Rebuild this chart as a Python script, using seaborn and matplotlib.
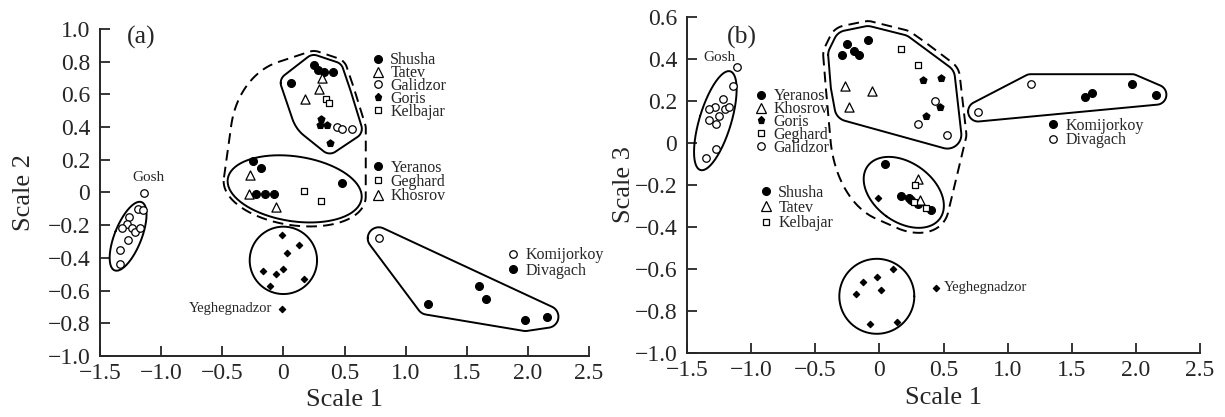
"""Two-panel ordination of regional samples (Scale 1 vs Scale 2 / Scale 3)."""

from __future__ import annotations

import matplotlib

matplotlib.use("Agg")
import matplotlib.pyplot as plt
import numpy as np
import pandas as pd
import seaborn as sns
from matplotlib.lines import Line2D
from matplotlib.ticker import FuncFormatter, MultipleLocator

# ---------------------------------------------------------------- panel (a)
A_GOSH_X = [-1.14, -1.19, -1.15, -1.26, -1.28, -1.32, -1.24, -1.21, -1.17, -1.27, -1.34, -1.34]
A_GOSH_Y = [0.00, -0.10, -0.11, -0.15, -0.19, -0.22, -0.22, -0.24, -0.22, -0.29, -0.35, -0.44]
A_SHUSHA_X = [0.25, 0.28, 0.33, 0.41, 0.06]
A_SHUSHA_Y = [0.78, 0.75, 0.74, 0.74, 0.67]
A_TATEV_X = [0.32, 0.29, 0.18]
A_TATEV_Y = [0.70, 0.63, 0.57]
A_GALIDZOR_X = [0.44, 0.48, 0.56]
A_GALIDZOR_Y = [0.40, 0.39, 0.39]
A_GORIS_X = [0.31, 0.30, 0.36, 0.38]
A_GORIS_Y = [0.45, 0.41, 0.41, 0.30]
A_KELBAJAR_X = [0.35, 0.37]
A_KELBAJAR_Y = [0.57, 0.55]
A_YERANOS_X = [-0.25, -0.18, -0.22, -0.15, -0.08, 0.48]
A_YERANOS_Y = [0.19, 0.15, -0.01, -0.01, -0.01, 0.06]
A_GEGHARD_X = [0.17, 0.31]
A_GEGHARD_Y = [0.01, -0.05]
A_KHOSROV_X = [-0.27, -0.28, -0.06]
A_KHOSROV_Y = [0.11, -0.01, -0.09]
A_YEGH_X = [-0.01, 0.13, 0.03, -0.17, -0.06, 0.00, -0.11, 0.17, -0.01]
A_YEGH_Y = [-0.26, -0.32, -0.37, -0.48, -0.50, -0.47, -0.57, -0.53, -0.71]
A_KOMIJORKOY_X = [0.78]
A_KOMIJORKOY_Y = [-0.28]
A_DIVAGACH_X = [1.18, 1.60, 1.66, 1.98, 2.16]
A_DIVAGACH_Y = [-0.68, -0.57, -0.65, -0.78, -0.76]

# ---------------------------------------------------------------- panel (b)
B_GOSH_X = [-1.11, -1.14, -1.22, -1.28, -1.33, -1.20, -1.17, -1.25, -1.33, -1.27, -1.27, -1.35]
B_GOSH_Y = [0.36, 0.27, 0.21, 0.17, 0.16, 0.16, 0.17, 0.13, 0.11, 0.09, -0.03, -0.07]
B_YERANOS_X = [-0.25, -0.29, -0.20, -0.16, -0.09]
B_YERANOS_Y = [0.47, 0.42, 0.44, 0.42, 0.49]
B_KHOSROV_X = [-0.27, -0.06, -0.24]
B_KHOSROV_Y = [0.27, 0.25, 0.17]
B_GORIS_X = [0.34, 0.48, 0.47, 0.36]
B_GORIS_Y = [0.30, 0.31, 0.17, 0.13]
B_GEGHARD_X = [0.17, 0.30]
B_GEGHARD_Y = [0.45, 0.37]
B_GALIDZOR_X = [0.43, 0.30, 0.53]
B_GALIDZOR_Y = [0.20, 0.09, 0.04]
B_SHUSHA_X = [0.04, 0.17, 0.23, 0.25, 0.30, 0.40]
B_SHUSHA_Y = [-0.10, -0.25, -0.26, -0.27, -0.29, -0.32]
B_TATEV_X = [0.30, 0.32]
B_TATEV_Y = [-0.17, -0.27]
B_KELBAJAR_X = [0.28, 0.27, 0.36]
B_KELBAJAR_Y = [-0.20, -0.28, -0.31]
B_YEGH_X = [-0.01, 0.11, -0.13, -0.02, -0.18, 0.01, -0.07, 0.14, 0.44]
B_YEGH_Y = [-0.26, -0.60, -0.66, -0.64, -0.72, -0.70, -0.86, -0.85, -0.69]
B_KOMIJORKOY_X = [1.60, 1.66, 1.97, 2.16]
B_KOMIJORKOY_Y = [0.22, 0.24, 0.28, 0.23]
B_DIVAGACH_X = [0.77, 1.18]
B_DIVAGACH_Y = [0.15, 0.28]

W, H = 1225, 417

# marker looks (size in pt, face colour)
STYLES = {
    "dot": dict(marker="o", ms=5.6, face="black"),
    "ring": dict(marker="o", ms=5.4, face="white"),
    "tri": dict(marker="^", ms=6.6, face="white"),
    "pent": dict(marker="p", ms=5.2, face="black"),
    "sq": dict(marker="s", ms=5.0, face="white"),
    "dia": dict(marker="D", ms=3.2, face="black"),
}

A_SITES = {
    "Gosh": (A_GOSH_X, A_GOSH_Y, "ring"),
    "Shusha": (A_SHUSHA_X, A_SHUSHA_Y, "dot"),
    "Tatev": (A_TATEV_X, A_TATEV_Y, "tri"),
    "Galidzor": (A_GALIDZOR_X, A_GALIDZOR_Y, "ring"),
    "Goris": (A_GORIS_X, A_GORIS_Y, "pent"),
    "Kelbajar": (A_KELBAJAR_X, A_KELBAJAR_Y, "sq"),
    "Yeranos": (A_YERANOS_X, A_YERANOS_Y, "dot"),
    "Geghard": (A_GEGHARD_X, A_GEGHARD_Y, "sq"),
    "Khosrov": (A_KHOSROV_X, A_KHOSROV_Y, "tri"),
    "Yeghegnadzor": (A_YEGH_X, A_YEGH_Y, "dia"),
    "Komijorkoy": (A_KOMIJORKOY_X, A_KOMIJORKOY_Y, "ring"),
    "Divagach": (A_DIVAGACH_X, A_DIVAGACH_Y, "dot"),
}

B_SITES = {
    "Gosh": (B_GOSH_X, B_GOSH_Y, "ring"),
    "Yeranos": (B_YERANOS_X, B_YERANOS_Y, "dot"),
    "Khosrov": (B_KHOSROV_X, B_KHOSROV_Y, "tri"),
    "Goris": (B_GORIS_X, B_GORIS_Y, "pent"),
    "Geghard": (B_GEGHARD_X, B_GEGHARD_Y, "sq"),
    "Galidzor": (B_GALIDZOR_X, B_GALIDZOR_Y, "ring"),
    "Shusha": (B_SHUSHA_X, B_SHUSHA_Y, "dot"),
    "Tatev": (B_TATEV_X, B_TATEV_Y, "tri"),
    "Kelbajar": (B_KELBAJAR_X, B_KELBAJAR_Y, "sq"),
    "Yeghegnadzor": (B_YEGH_X, B_YEGH_Y, "dia"),
    "Komijorkoy": (B_KOMIJORKOY_X, B_KOMIJORKOY_Y, "dot"),
    "Divagach": (B_DIVAGACH_X, B_DIVAGACH_Y, "ring"),
}


def to_frame(sites: dict) -> pd.DataFrame:
    rows = []
    for site, (xs, ys, style) in sites.items():
        for i, (x, y) in enumerate(zip(xs, ys)):
            rows.append({"site": site, "idx": i, "x": x, "y": y, "style": style})
    return pd.DataFrame(rows)


def fig_pos(x: float, y: float) -> tuple[float, float]:
    return x / W, 1 - y / H


def tick_fmt(v, _):
    if abs(v) < 1e-9:
        return "0"
    return f"{v:.1f}".replace("-", "\u2212")


def convex_hull(points: np.ndarray) -> np.ndarray:
    pts = sorted(set(map(tuple, np.round(points, 3))))

    def cross(o, a, b):
        return (a[0] - o[0]) * (b[1] - o[1]) - (a[1] - o[1]) * (b[0] - o[0])

    lower, upper = [], []
    for p in pts:
        while len(lower) >= 2 and cross(lower[-2], lower[-1], p) <= 0:
            lower.pop()
        lower.append(p)
    for p in reversed(pts):
        while len(upper) >= 2 and cross(upper[-2], upper[-1], p) <= 0:
            upper.pop()
        upper.append(p)
    return np.array(lower[:-1] + upper[:-1])


def rounded_hull(disp: np.ndarray, pad: float) -> np.ndarray:
    ang = np.linspace(0, 2 * np.pi, 48, endpoint=False)
    ring = np.column_stack([np.cos(ang), np.sin(ang)]) * pad
    cloud = (disp[:, None, :] + ring[None, :, :]).reshape(-1, 2)
    hull = convex_hull(cloud)
    return np.vstack([hull, hull[:1]])


def bulge(disp: np.ndarray, k: float) -> np.ndarray:
    """Axis-aligned ellipse inside the bounding box, used to round off hulls."""
    lo, hi = disp.min(axis=0), disp.max(axis=0)
    mid, half = (lo + hi) / 2, (hi - lo) / 2 * k
    t = np.linspace(0, 2 * np.pi, 120)
    return mid + np.column_stack([half[0] * np.cos(t), half[1] * np.sin(t)])


def ellipse_ring(disp: np.ndarray, pad: float, circle: bool = False) -> np.ndarray:
    t = np.linspace(0, 2 * np.pi, 160)
    if circle:
        mid = (disp.max(axis=0) + disp.min(axis=0)) / 2
        r = np.hypot(*(disp - mid).T).max() + pad
        return mid + r * np.column_stack([np.cos(t), np.sin(t)])
    centre = disp.mean(axis=0)
    _, vecs = np.linalg.eigh(np.cov((disp - centre).T))
    local = (disp - centre) @ vecs
    mid = (local.max(axis=0) + local.min(axis=0)) / 2
    half = np.maximum((local.max(axis=0) - local.min(axis=0)) / 2, 1.0)
    scale = np.sqrt((((local - mid) / half) ** 2).sum(axis=1)).max()
    half = half * scale + pad
    ring = np.column_stack([half[0] * np.cos(t), half[1] * np.sin(t)]) + mid
    return centre + ring @ vecs.T


def members(df: pd.DataFrame, picks) -> np.ndarray:
    parts = []
    for site, sl in picks:
        sub = df[df["site"] == site].sort_values("idx").iloc[sl]
        parts.append(sub[["x", "y"]].to_numpy())
    return np.vstack(parts)


def draw_outline(ax, disp_ring: np.ndarray, dashed: bool = False) -> None:
    data = ax.transData.inverted().transform(disp_ring)
    ls = (0, (5.5, 3.2)) if dashed else "-"
    ax.plot(data[:, 0], data[:, 1], color="black", lw=1.4, ls=ls, zorder=2,
            solid_capstyle="round")


def outline(ax, df, picks, kind: str, pad: float, k: float = 0.7) -> np.ndarray:
    disp = ax.transData.transform(members(df, picks))
    if kind == "hull":
        ring = rounded_hull(disp, pad)
    elif kind == "blob":
        ring = rounded_hull(np.vstack([disp, bulge(disp, k)]), pad)
    elif kind == "circle":
        ring = ellipse_ring(disp, pad, circle=True)
    else:
        ring = ellipse_ring(disp, pad)
    draw_outline(ax, ring)
    return ring


def dashed_outline(ax, rings, pad: float, k: float) -> None:
    both = np.vstack(rings)
    draw_outline(ax, rounded_hull(np.vstack([both, bulge(both, k)]), pad), dashed=True)


def scatter_sites(ax, df: pd.DataFrame) -> None:
    for (site, style), sub in df.groupby(["site", "style"], sort=False):
        st = STYLES[style]
        sns.scatterplot(data=sub, x="x", y="y", marker=st["marker"], s=st["ms"] ** 2,
                        color=st["face"], edgecolor="black", linewidth=0.9,
                        legend=False, zorder=4, ax=ax)


def add_legend(fig, labels, styles, x_px, y_px, spacing):
    handles = []
    for style in styles:
        st = STYLES[style]
        handles.append(Line2D([], [], ls="none", marker=st["marker"], markersize=st["ms"],
                              markerfacecolor=st["face"], markeredgecolor="black",
                              markeredgewidth=0.9))
    fig.legend(handles, labels, loc="center left", bbox_to_anchor=fig_pos(x_px, y_px),
               bbox_transform=fig.transFigure, frameon=False, fontsize=11.5,
               handlelength=0.8, handletextpad=0.35, borderpad=0, borderaxespad=0,
               labelspacing=spacing)


def style_axes(ax, ylim, xlabel, ylabel, ylabelpad):
    ax.set_xlim(-1.5, 2.5)
    ax.set_ylim(*ylim)
    ax.xaxis.set_major_locator(MultipleLocator(0.5))
    ax.yaxis.set_major_locator(MultipleLocator(0.2))
    ax.xaxis.set_major_formatter(FuncFormatter(tick_fmt))
    ax.yaxis.set_major_formatter(FuncFormatter(tick_fmt))
    for side in ("top", "right"):
        ax.spines[side].set_visible(False)
    for side in ("left", "bottom"):
        ax.spines[side].set_linewidth(1.4)
    ax.tick_params(direction="in", length=7, width=1.3, labelsize=17, pad=5)
    ax.tick_params(axis="y", pad=7)
    ax.set_xlabel(xlabel, fontsize=19, labelpad=4)
    ax.set_ylabel(ylabel, fontsize=19, labelpad=ylabelpad)
    ax.set_facecolor("white")


def main() -> None:
    sns.set_style("ticks")
    plt.rcParams["font.family"] = ["Liberation Serif", "DejaVu Serif"]
    plt.rcParams["axes.unicode_minus"] = True

    fig = plt.figure(figsize=(W / 100, H / 100), dpi=100)
    ax_a = fig.add_axes([100 / W, 1 - 356 / H, 489 / W, 327 / H])
    ax_b = fig.add_axes([687 / W, 1 - 353 / H, 513 / W, 336 / H])

    df_a = to_frame(A_SITES)
    df_b = to_frame(B_SITES)

    style_axes(ax_a, (-1.0, 1.0), "Scale 1", "Scale 2", 9)
    style_axes(ax_b, (-1.0, 0.6), "Scale 1", "Scale 3", 0)

    # ---- panel (a) outlines
    outline(ax_a, df_a, [("Gosh", slice(1, None))], "ellipse", 4)
    up = outline(ax_a, df_a, [("Shusha", slice(None)), ("Tatev", slice(None)),
                              ("Galidzor", slice(None)), ("Goris", slice(None)),
                              ("Kelbajar", slice(None))], "blob", 10, k=0.7)
    low = outline(ax_a, df_a, [("Yeranos", slice(None)), ("Geghard", slice(None)),
                               ("Khosrov", slice(None))], "ellipse", 3)
    outline(ax_a, df_a, [("Yeghegnadzor", slice(0, -1))], "circle", 5)
    outline(ax_a, df_a, [("Komijorkoy", slice(None)), ("Divagach", slice(None))], "hull", 11)
    dashed_outline(ax_a, [up, low], 4, 0.9)

    # ---- panel (b) outlines
    outline(ax_b, df_b, [("Gosh", slice(1, None))], "ellipse", 4)
    up = outline(ax_b, df_b, [("Yeranos", slice(None)), ("Khosrov", slice(None)),
                              ("Goris", slice(None)), ("Geghard", slice(None)),
                              ("Galidzor", slice(None))], "hull", 14)
    low = outline(ax_b, df_b, [("Shusha", slice(None)), ("Tatev", slice(None)),
                               ("Kelbajar", slice(None)), ("Yeghegnadzor", slice(0, 1))],
                  "ellipse", 7)
    outline(ax_b, df_b, [("Yeghegnadzor", slice(1, -1))], "circle", 5)
    outline(ax_b, df_b, [("Komijorkoy", slice(None)), ("Divagach", slice(None))], "hull", 10)
    dashed_outline(ax_b, [up, low], 5, 0.9)

    scatter_sites(ax_a, df_a)
    scatter_sites(ax_b, df_b)

    # ---- point labels
    ax_a.annotate("Gosh", (A_GOSH_X[0], A_GOSH_Y[0]), xytext=(3, 11),
                  textcoords="offset points", ha="center", va="center", fontsize=11)
    ax_a.annotate("Yeghegnadzor", (A_YEGH_X[-1], A_YEGH_Y[-1]), xytext=(-7, 0),
                  textcoords="offset points", ha="right", va="center", fontsize=10.5)
    ax_b.annotate("Gosh", (B_GOSH_X[0], B_GOSH_Y[0]), xytext=(-13, 7),
                  textcoords="offset points", ha="center", va="center", fontsize=11)
    ax_b.annotate("Yeghegnadzor", (B_YEGH_X[-1], B_YEGH_Y[-1]), xytext=(6, 0),
                  textcoords="offset points", ha="left", va="center", fontsize=10.5)

    ax_a.text(127 / W, 1 - 37 / H, "(a)", transform=fig.transFigure, fontsize=18.5,
              ha="left", va="center")
    ax_b.text(727 / W, 1 - 37 / H, "(b)", transform=fig.transFigure, fontsize=18.5,
              ha="left", va="center")

    # ---- legends
    add_legend(fig, ["Shusha", "Tatev", "Galidzor", "Goris", "Kelbajar"],
               ["dot", "tri", "ring", "pent", "sq"], 372, 86, -0.2)
    add_legend(fig, ["Yeranos", "Geghard", "Khosrov"], ["dot", "sq", "tri"], 372, 182, -0.1)
    add_legend(fig, ["Komijorkoy", "Divagach"], ["ring", "dot"], 507, 263, -0.05)
    add_legend(fig, ["Yeranos", "Khosrov", "Goris", "Geghard", "Galidzor"],
               ["dot", "tri", "pent", "sq", "ring"], 755, 122, -0.2)
    add_legend(fig, ["Shusha", "Tatev", "Kelbajar"], ["dot", "tri", "sq"], 760, 208, -0.05)
    add_legend(fig, ["Komijorkoy", "Divagach"], ["dot", "ring"], 1047, 133, -0.1)

    fig.savefig("out.png", dpi=100, facecolor="white")
    plt.close(fig)


if __name__ == "__main__":
    main()
